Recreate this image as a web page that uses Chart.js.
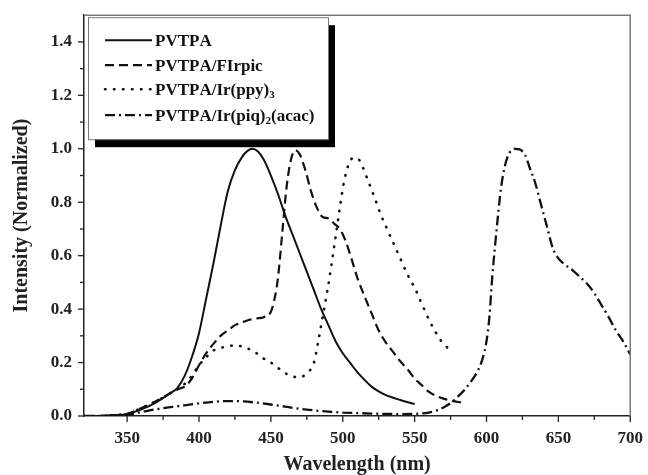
<!DOCTYPE html>
<html>
<head>
<meta charset="utf-8">
<script src="https://cdn.jsdelivr.net/npm/chart.js@4/dist/chart.umd.min.js"></script>
<style>
html,body{margin:0;padding:0;background:#fff;}
#wrap{width:648px;height:475px;}
</style>
</head>
<body>
<div id="wrap"><canvas id="c" width="648" height="475"></canvas></div>
<script>
// ---- data ----
const seriesNames = ["PVTPA", "PVTPA/FIrpic", "PVTPA/Ir(ppy)₃", "PVTPA/Ir(piq)₂(acac)"];

const pvtpaX = [320,330,340,350,360,370,380,385,390,395,400,405,410,415,420,425,430,434,437,441,445,450,455,460,465,470,475,480,485,490,495,500,505,510,515,520,525,530,540,550];
const pvtpaY = [0,0,0.003,0.008,0.025,0.05,0.085,0.105,0.15,0.22,0.31,0.44,0.57,0.71,0.84,0.92,0.97,0.993,1.0,0.99,0.96,0.9,0.83,0.75,0.68,0.61,0.54,0.47,0.4,0.34,0.28,0.235,0.2,0.165,0.136,0.11,0.092,0.078,0.06,0.045];

const firpicX = [320,330,340,350,360,370,380,385,390,395,400,405,410,415,420,425,430,435,440,445,450,453,455,458,461,464,467,470,474,478,482,486,490,494,498,502,506,510,515,520,525,530,535,540,545,550,555,560,565,570,575,583];
const firpicY = [0,0,0.003,0.008,0.03,0.055,0.085,0.1,0.11,0.14,0.19,0.235,0.27,0.3,0.32,0.34,0.35,0.36,0.365,0.37,0.39,0.45,0.52,0.69,0.86,0.96,0.995,0.98,0.92,0.84,0.78,0.745,0.74,0.72,0.7,0.655,0.59,0.52,0.45,0.385,0.32,0.275,0.24,0.205,0.175,0.14,0.115,0.09,0.075,0.065,0.058,0.05];

const ppyX = [320,330,340,350,360,370,380,390,395,400,405,410,415,420,425,430,435,440,445,450,455,460,465,470,475,480,483,486,489,492,495,498,501,504,507,510,514,518,522,526,530,535,540,545,550,555,560,565,570,577];
const ppyY = [0,0,0.003,0.008,0.03,0.055,0.085,0.12,0.15,0.19,0.22,0.245,0.255,0.26,0.265,0.26,0.25,0.235,0.215,0.2,0.18,0.16,0.148,0.145,0.16,0.2,0.28,0.37,0.46,0.56,0.67,0.78,0.88,0.94,0.965,0.965,0.93,0.875,0.82,0.76,0.71,0.65,0.59,0.53,0.48,0.42,0.36,0.31,0.27,0.24];

const piqX = [320,330,340,350,360,370,380,390,400,410,420,430,440,450,460,470,480,490,500,510,520,530,540,550,560,566,571,576,580,585,590,594,597,600,602,604,606,608,610,613,616,620,623,627,630,634,638,642,646,650,655,660,665,670,675,680,685,690,695,700];
const piqY = [0,0,0.002,0.005,0.015,0.025,0.033,0.04,0.047,0.053,0.056,0.055,0.05,0.043,0.035,0.027,0.021,0.016,0.013,0.011,0.009,0.008,0.007,0.008,0.013,0.022,0.035,0.052,0.072,0.1,0.135,0.17,0.21,0.28,0.37,0.52,0.64,0.75,0.85,0.94,0.985,1.0,0.998,0.975,0.93,0.87,0.79,0.71,0.63,0.59,0.565,0.545,0.52,0.495,0.46,0.415,0.37,0.32,0.28,0.23];

const xMajorStep = 50;
const yMajorStep = 0.2;
const xTitle = "Wavelength (nm)";
const yTitle = "Intensity (Normalized)";

// ---- chart ----
const FONT = "'Liberation Serif', 'Times New Roman', serif";
const toXY = (xs, ys) => xs.map((x, i) => ({x: x, y: ys[i]}));

const dashStyles = [[], [9, 5], [0.5, 8.5], [10, 4, 2, 4]];
const widths = [2, 2.2, 2.6, 2.3];
const caps = ['butt', 'butt', 'round', 'butt'];
const datasets = [
  [pvtpaX, pvtpaY], [firpicX, firpicY], [ppyX, ppyY], [piqX, piqY]
].map((s, i) => ({
  label: seriesNames[i],
  data: toXY(s[0], s[1]),
  borderColor: '#111',
  borderWidth: widths[i],
  borderDash: dashStyles[i],
  borderCapStyle: caps[i],
  pointRadius: 0,
  fill: false,
  cubicInterpolationMode: 'monotone'
}));

function drawLabel(ctx, text, x, y, size) {
  // render unicode subscript digits as lowered small digits
  const subs = {'₀':'0','₁':'1','₂':'2','₃':'3','₄':'4','₅':'5','₆':'6','₇':'7','₈':'8','₉':'9'};
  let cx = x;
  for (const ch of text) {
    if (subs[ch]) {
      ctx.font = 'bold ' + Math.round(size * 0.65) + 'px ' + FONT;
      ctx.fillText(subs[ch], cx, y + size * 0.3);
      cx += ctx.measureText(subs[ch]).width;
    } else {
      ctx.font = 'bold ' + size + 'px ' + FONT;
      ctx.fillText(ch, cx, y);
      cx += ctx.measureText(ch).width;
    }
  }
}

const decor = {
  id: 'decor',
  afterDatasetsDraw(chart) {
    const ctx = chart.ctx;
    const a = chart.chartArea;
    const xs = chart.scales.x, ys = chart.scales.y;
    ctx.save();
    // top and right frame
    ctx.strokeStyle = '#7a7a7a';
    ctx.lineWidth = 1.5;
    ctx.beginPath();
    ctx.moveTo(a.left, a.top); ctx.lineTo(a.right, a.top); ctx.lineTo(a.right, a.bottom);
    ctx.stroke();
    // tick marks (outward)
    ctx.strokeStyle = '#222';
    ctx.lineWidth = 1.3;
    xs.ticks.forEach(t => {
      const v = t.value;
      if (v === xs.min) return;
      const major = Math.abs(v % xMajorStep) < 1e-6;
      const px = xs.getPixelForValue(v);
      ctx.beginPath(); ctx.moveTo(px, a.bottom); ctx.lineTo(px, a.bottom + (major ? 6 : 4)); ctx.stroke();
    });
    ys.ticks.forEach(t => {
      const v = t.value;
      if (v >= ys.max - 1e-6) return;
      const major = Math.round(v * 10) % Math.round(yMajorStep * 10) === 0;
      const py = ys.getPixelForValue(v);
      ctx.beginPath(); ctx.moveTo(a.left, py); ctx.lineTo(a.left - (major ? 6 : 4), py); ctx.stroke();
    });
    // legend with shadow
    const bx = a.left + 4, by = a.top + 2, bw = 240, bh = 122;
    ctx.fillStyle = '#000';
    ctx.fillRect(bx + 7, by + 8, bw, bh);
    ctx.fillStyle = '#fff';
    ctx.fillRect(bx, by, bw, bh);
    ctx.strokeStyle = '#777';
    ctx.lineWidth = 1;
    ctx.strokeRect(bx + 0.5, by + 0.5, bw, bh);
    const rows = [23, 48, 72, 98];
    chart.data.datasets.forEach((d, i) => {
      const yy = by + rows[i];
      ctx.strokeStyle = d.borderColor;
      ctx.lineWidth = d.borderWidth;
      ctx.lineCap = d.borderCapStyle;
      ctx.setLineDash(d.borderDash);
      ctx.beginPath(); ctx.moveTo(bx + 17, yy); ctx.lineTo(bx + 64, yy); ctx.stroke();
      ctx.setLineDash([]);
      ctx.lineCap = 'butt';
      ctx.fillStyle = '#111';
      ctx.textBaseline = 'middle';
      ctx.textAlign = 'left';
      drawLabel(ctx, d.label, bx + 67, yy + 1, 17);
    });
    ctx.restore();
  }
};

new Chart(document.getElementById('c'), {
  type: 'line',
  data: { datasets: datasets },
  options: {
    responsive: false,
    devicePixelRatio: 1,
    animation: false,
    layout: { padding: { left: 0, top: 13, right: 15, bottom: 0 } },
    plugins: { legend: { display: false }, tooltip: { enabled: false } },
    scales: {
      x: {
        type: 'linear',
        min: 320, max: 700,
        afterFit: s => { s.height = 59; },
        grid: { display: true, drawOnChartArea: false, drawTicks: true, tickLength: 7, color: 'rgba(0,0,0,0)', tickColor: 'rgba(0,0,0,0)' },
        border: { display: true, color: '#222', width: 1.5 },
        ticks: {
          stepSize: 25, autoSkip: false, maxRotation: 0, padding: 5,
          color: '#222',
          font: { family: FONT, size: 17, weight: 'bold' },
          callback: v => (Math.abs(v % xMajorStep) < 1e-6 ? String(v) : '')
        },
        title: { display: true, text: xTitle, color: '#222', padding: { top: 0, bottom: 0 },
          font: { family: FONT, size: 20, weight: 'bold', lineHeight: 1.0 } }
      },
      y: {
        min: 0, max: 1.5,
        afterFit: s => { s.width = 84; },
        grid: { display: true, drawOnChartArea: false, drawTicks: true, tickLength: 7, color: 'rgba(0,0,0,0)', tickColor: 'rgba(0,0,0,0)' },
        border: { display: true, color: '#222', width: 1.5 },
        ticks: {
          stepSize: 0.1, autoSkip: false, padding: 5,
          color: '#222',
          font: { family: FONT, size: 17, weight: 'bold' },
          callback: v => (Math.round(v * 10) % 2 === 0 && v < 1.45 ? v.toFixed(1) : '')
        },
        title: { display: true, text: yTitle, color: '#222', padding: { top: 12, bottom: 0 },
          font: { family: FONT, size: 20, weight: 'bold', lineHeight: 1.0 } }
      }
    }
  },
  plugins: [decor]
});
</script>
</body>
</html>
